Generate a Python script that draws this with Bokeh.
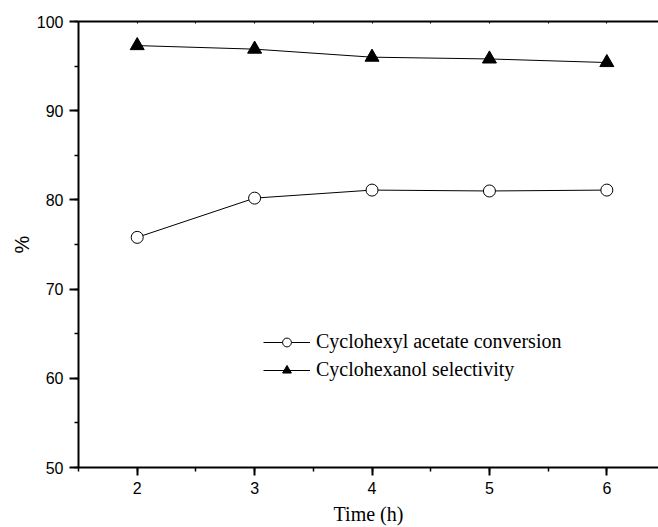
from bokeh.plotting import figure
from bokeh.models import (LinearAxis, Legend, LegendItem, Range1d,
                          SingleIntervalTicker, FixedTicker)
from bokeh.embed import file_html
from bokeh.resources import INLINE

time_h = [2, 3, 4, 5, 6]
conversion = [75.8, 80.2, 81.1, 81.0, 81.1]
selectivity = [97.3, 96.9, 96.0, 95.8, 95.4]

labels = ["Cyclohexyl acetate conversion", "Cyclohexanol selectivity"]
x_label = "Time (h)"
y_label = "%"
top_tick_positions = [2, 2.5, 3, 3.5, 4, 4.5, 5, 5.5, 6]

p = figure(width=658, height=527, x_range=Range1d(1.5, 6.44),
           y_range=Range1d(50, 100), output_backend="svg",
           toolbar_location=None, min_border_left=78, min_border_right=0,
           min_border_top=21, min_border_bottom=58)
p.grid.visible = False
p.outline_line_color = None
p.background_fill_color = "white"

# data
l1 = p.line(time_h, conversion, line_color="black", line_width=1)
s1 = p.scatter(time_h, conversion, marker="circle", size=12,
               fill_color="white", line_color="black", line_width=1)
l2 = p.line(time_h, selectivity, line_color="black", line_width=1)
s2 = p.scatter(time_h, selectivity, marker="triangle", size=14,
               fill_color="black", line_color="black", line_width=1)

def style_axis(ax):
    ax.axis_line_width = 2
    ax.axis_line_color = "black"
    ax.major_tick_line_width = 2
    ax.minor_tick_line_width = 1.5
    ax.major_tick_line_color = "black"
    ax.minor_tick_line_color = "black"
    ax.major_label_text_font = "Liberation Sans"
    ax.major_label_text_font_size = "16px"
    ax.major_label_text_color = "black"
    ax.axis_label_text_font_style = "normal"
    ax.axis_label_text_color = "black"

xa = p.xaxis[0]
xa.ticker = SingleIntervalTicker(interval=1, num_minor_ticks=2)
style_axis(xa)
xa.major_tick_out = 8
xa.major_tick_in = 0
xa.minor_tick_out = 4
xa.minor_tick_in = 0
xa.major_label_standoff = 6
xa.axis_label = x_label
xa.axis_label_text_font = "Liberation Serif"
xa.axis_label_text_font_size = "20px"
xa.axis_label_standoff = 6

ya = p.yaxis[0]
ya.ticker = SingleIntervalTicker(interval=10, num_minor_ticks=2)
style_axis(ya)
ya.major_tick_out = 9
ya.major_tick_in = 0
ya.minor_tick_out = 4
ya.minor_tick_in = 0
ya.major_label_standoff = 6
ya.axis_label = y_label
ya.axis_label_text_font = "Liberation Sans"
ya.axis_label_text_font_size = "20px"
ya.axis_label_standoff = 1

# top frame line with tiny inward ticks (no labels)
top = LinearAxis(ticker=FixedTicker(ticks=[], minor_ticks=top_tick_positions))
style_axis(top)
top.major_tick_out = 0
top.major_tick_in = 0
top.minor_tick_out = 0
top.minor_tick_in = 2
top.minor_tick_line_width = 1
p.add_layout(top, "above")

legend = Legend(items=[LegendItem(label=labels[0], renderers=[l1, s1]),
                       LegendItem(label=labels[1], renderers=[l2, s2])],
                location=(185, 86))
legend.background_fill_alpha = 0
legend.border_line_alpha = 0
legend.padding = 0
legend.margin = 0
legend.glyph_width = 47
legend.glyph_height = 22
legend.label_height = 22
legend.spacing = 5
legend.label_standoff = 6
legend.label_text_font = "Liberation Serif"
legend.label_text_font_size = "20px"
legend.label_text_color = "black"
p.add_layout(legend)

open("out.html", "w").write(file_html(p, INLINE))
